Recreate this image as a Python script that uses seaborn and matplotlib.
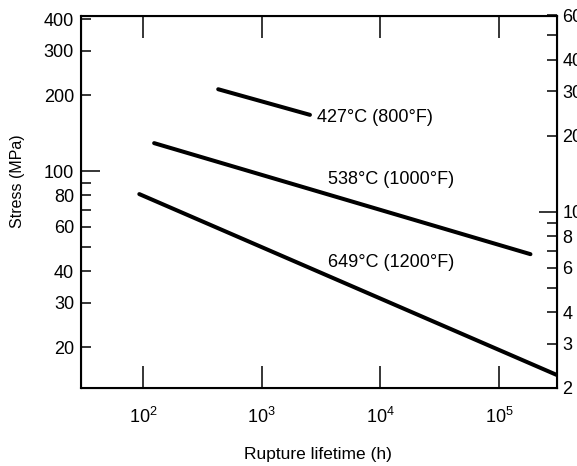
import pandas as pd
import matplotlib
matplotlib.use("Agg")
import matplotlib.pyplot as plt
import seaborn as sns

# Rupture lifetime (h) vs stress (MPa)
life_427 = [430, 2550]
stress_427 = [211, 167]
life_538 = [124, 1.84e5]
stress_538 = [129, 46.8]
life_649 = [93, 3.1e5]
stress_649 = [81.0, 15.5]
labels = ["427°C (800°F)", "538°C (1000°F)", "649°C (1200°F)"]

left_ticks = [20, 30, 40, 50, 60, 70, 80, 90, 100, 200, 300, 400]
left_labels = ["20", "30", "40", "", "60", "", "80", "", "100", "200", "300", "400"]
right_ticks = [2, 3, 4, 5, 6, 7, 8, 9, 10, 20, 30, 40, 50, 60]
right_labels = ["2", "3", "4", "", "6", "", "8", "", "10", "20", "30", "40", "", "60"]
x_ticks = [1e2, 1e3, 1e4, 1e5]
x_labels = ["$10^2$", "$10^3$", "$10^4$", "$10^5$"]

df = pd.concat([
    pd.DataFrame({"life": life_427, "stress": stress_427, "temp": labels[0]}),
    pd.DataFrame({"life": life_538, "stress": stress_538, "temp": labels[1]}),
    pd.DataFrame({"life": life_649, "stress": stress_649, "temp": labels[2]}),
])

sns.set_style("ticks")
plt.rcParams["font.family"] = ["Liberation Sans", "DejaVu Sans"]
plt.rcParams["mathtext.fontset"] = "custom"
plt.rcParams["mathtext.rm"] = "Liberation Sans"
plt.rcParams["text.color"] = "black"
plt.rcParams["axes.labelcolor"] = "black"
plt.rcParams["axes.edgecolor"] = "black"
plt.rcParams["xtick.color"] = "black"
plt.rcParams["ytick.color"] = "black"

fig = plt.figure(figsize=(5.77, 4.66), dpi=100)
ax = fig.add_axes([81 / 577, 1 - 388 / 466, 476 / 577, 372.5 / 466])

sns.lineplot(data=df, x="life", y="stress", hue="temp", units="temp",
             estimator=None, sort=False, palette=["black"] * 3,
             linewidth=2.9, legend=False, ax=ax)

ax.set_xscale("log")
ax.set_yscale("log")
ax.set_xlim(30, 3.08e5)
ax.set_ylim(2 * 6.895, 60 * 6.895)

ax.set_xticks(x_ticks)
ax.set_xticklabels(x_labels)
ax.xaxis.set_minor_locator(plt.NullLocator())
ax.set_yticks(left_ticks)
ax.set_yticklabels(left_labels)
ax.yaxis.set_minor_locator(plt.NullLocator())

ax.tick_params(axis="x", direction="in", length=16, width=1.1, top=True,
               labelsize=13, pad=13.5)
ax.tick_params(axis="y", direction="in", length=7, width=1.1,
               labelsize=13, pad=5)
ax.yaxis.get_major_ticks()[8].tick1line.set_markersize(14)

for s in ax.spines.values():
    s.set_linewidth(1.5)

ax2 = ax.twinx()
ax2.set_yscale("log")
ax2.set_ylim(2, 60)
ax2.set_yticks(right_ticks)
ax2.set_yticklabels(right_labels)
ax2.yaxis.set_minor_locator(plt.NullLocator())
ax2.tick_params(axis="y", direction="in", length=7, width=1.1,
                labelsize=13, pad=4)
ax2.yaxis.get_major_ticks()[8].tick2line.set_markersize(13)

ax.set_xlabel("Rupture lifetime (h)", fontsize=12.5)
ax.xaxis.set_label_coords(0.498, -0.158)
ax.set_ylabel("Stress (MPa)", fontsize=11.5)
ax.yaxis.set_label_coords(-0.118, 0.556)

ax.text(0.496, 0.727, labels[0], transform=ax.transAxes, fontsize=13, va="center")
ax.text(0.519, 0.561, labels[1], transform=ax.transAxes, fontsize=13, va="center")
ax.text(0.519, 0.338, labels[2], transform=ax.transAxes, fontsize=13, va="center")

fig.savefig("out.png", dpi=100)
